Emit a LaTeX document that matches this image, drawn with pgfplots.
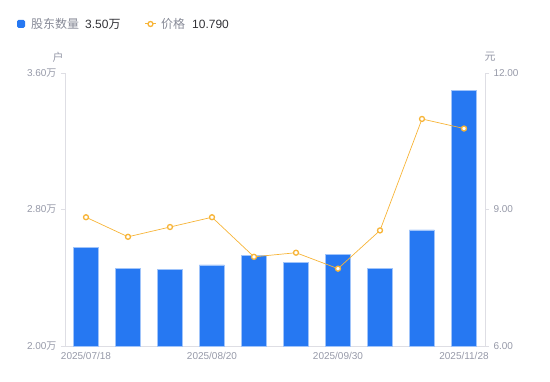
\documentclass[border=0pt]{standalone}
\usepackage{pgfplots}
\pgfplotsset{compat=1.18}
\usepackage{fontspec}
\setmainfont{Liberation Sans}
\newfontfamily\cjk{Noto Sans CJK SC}
\definecolor{barblue}{RGB}{38,120,242}
\definecolor{baredge}{RGB}{160,196,250}
\definecolor{lineorange}{RGB}{247,180,55}
\definecolor{ticklab}{RGB}{150,153,168}
\definecolor{axisgray}{RGB}{222,222,228}
\definecolor{legdark}{RGB}{50,50,55}
\begin{document}
\begin{tikzpicture}[x=1pt,y=1pt]
\path[use as bounding box] (0,0) rectangle (550,381);
\begin{axis}[
  at={(65pt,35pt)}, anchor=south west,
  width=420pt, height=273pt, scale only axis,
  xmin=-0.5, xmax=9.5, ymin=2, ymax=3.6,
  axis y line*=left, axis x line*=bottom,
  axis line style={-,draw=axisgray, line width=0.8pt},
  ytick={2,2.8,3.6},
  yticklabels={2.00{\cjk 万},2.80{\cjk 万},3.60{\cjk 万}},
  xtick={0,3,6,9},
  xticklabels={2025/07/18,2025/08/20,2025/09/30,2025/11/28},
  major x tick style={draw=none},
  major y tick style={draw=axisgray, line width=0.8pt},
  major tick length=4pt, tick align=outside,
  ticklabel style={font=\fontsize{10}{12}\selectfont, text=ticklab},
  yticklabel style={xshift=-1pt},
  xticklabel style={yshift=1pt},
  /pgf/number format/assume math mode=true,
  clip=false,
]
\addplot[ybar, bar width=25pt, fill=barblue, draw=baredge, line width=0.8pt]
  coordinates {(0,2.580) (1,2.457) (2,2.448) (3,2.475) (4,2.530)
               (5,2.491) (6,2.539) (7,2.455) (8,2.680) (9,3.500)};
\end{axis}
\begin{axis}[
  at={(65pt,35pt)}, anchor=south west,
  width=420pt, height=273pt, scale only axis,
  xmin=-0.5, xmax=9.5, ymin=6, ymax=12,
  axis y line*=right, axis x line=none,
  axis line style={-,draw=axisgray, line width=0.8pt},
  ytick={6,9,12},
  yticklabels={6.00,9.00,12.00},
  major y tick style={draw=axisgray, line width=0.8pt},
  major tick length=4pt, tick align=outside,
  ticklabel style={font=\fontsize{10}{12}\selectfont, text=ticklab},
  yticklabel style={xshift=1pt},
  clip=false,
]
\addplot[lineorange, line width=0.7pt, mark=*,
  mark options={fill=white, draw=lineorange, line width=1.3pt}, mark size=2.5pt]
  coordinates {(0,8.83) (1,8.40) (2,8.615) (3,8.83) (4,7.96)
               (5,8.05) (6,7.70) (7,8.54) (8,10.99) (9,10.78)};
\end{axis}
% axis unit labels
\node[text=ticklab, font=\cjk\fontsize{11}{12}\selectfont] at (58,324) {户};
\node[text=ticklab, font=\cjk\fontsize{11}{12}\selectfont] at (490,324) {元};
% legend
\fill[barblue, rounded corners=1.5pt] (17,353) rectangle (25,361);
\node[anchor=west, inner sep=0pt, text=ticklab!90!black, font=\cjk\fontsize{12}{14}\selectfont] at (31,357) {股东数量};
\node[anchor=west, inner sep=0pt, text=legdark, font=\fontsize{12}{14}\selectfont] at (85,357) {3.50{\cjk 万}};
\draw[lineorange, line width=1pt] (145,357) -- (156,357);
\draw[lineorange, fill=white, line width=1.3pt] (150.5,357) circle (2.5pt);
\node[anchor=west, inner sep=0pt, text=ticklab!90!black, font=\cjk\fontsize{12}{14}\selectfont] at (161,357) {价格};
\node[anchor=west, inner sep=0pt, text=legdark, font=\fontsize{12}{14}\selectfont] at (192,357) {10.790};
\end{tikzpicture}
\end{document}
